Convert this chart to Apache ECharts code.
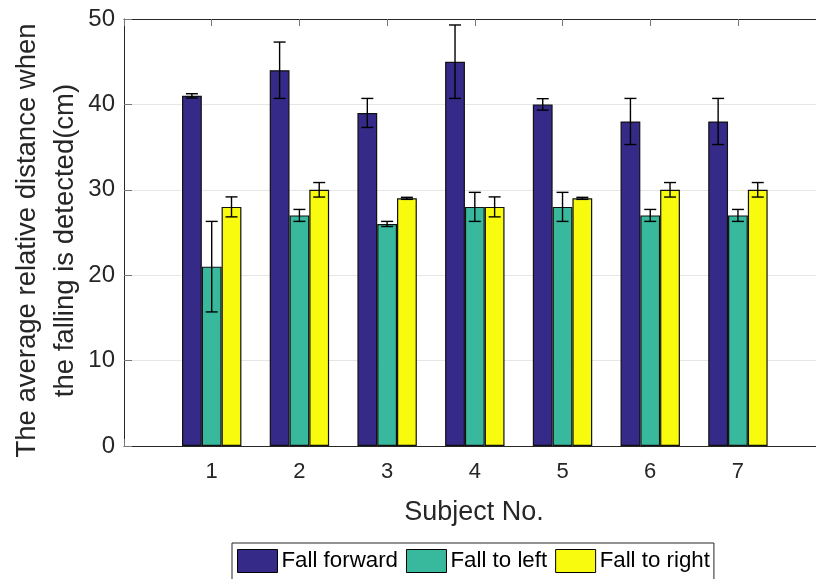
<!DOCTYPE html>
<html>
<head>
<meta charset="utf-8">
<script src="https://cdn.jsdelivr.net/npm/echarts@6/dist/echarts.min.js"></script>
<style>html,body{margin:0;padding:0;background:#fff;}#c{width:816px;height:579px;}</style>
</head>
<body>
<div id="c"></div>
<script>
const subjects = [1, 2, 3, 4, 5, 6, 7];
const seriesNames = ['Fall forward', 'Fall to left', 'Fall to right'];
const forward = [41, 44, 39, 45, 40, 38, 38];
const forwardErr = [0.25, 3.3, 1.7, 4.3, 0.67, 2.7, 2.7];
const left = [21, 27, 26, 28, 28, 27, 27];
const leftErr = [5.3, 0.7, 0.3, 1.7, 1.7, 0.7, 0.7];
const right = [28, 30, 29, 28, 29, 30, 30];
const rightErr = [1.17, 0.85, 0.12, 1.17, 0.12, 0.85, 0.85];
const yTicks = [0, 10, 20, 30, 40, 50];
const xMin = 0, xMax = 7.89;

const colors = ['#352a87', '#38b99e', '#f9fb0e'];
const textColor = '#262626';
const FONT = 'Liberation Sans, Arial, sans-serif';
const BAR_W = 19.8;

const values = [forward, left, right];
const errs = [forwardErr, leftErr, rightErr];

const chart = echarts.init(document.getElementById('c'), null, {renderer: 'canvas'});

const barSeries = values.map((vals, i) => ({
  name: seriesNames[i],
  type: 'bar',
  xAxisIndex: 0,
  yAxisIndex: 0,
  barWidth: BAR_W,
  barGap: '0%',
  data: subjects.map((s, j) => [s, vals[j]]),
  itemStyle: {color: colors[i], borderColor: '#111', borderWidth: 1.2},
  emphasis: {disabled: true},
  z: 2
}));

const errSeries = values.map((vals, i) => ({
  type: 'custom',
  xAxisIndex: 0,
  yAxisIndex: 0,
  silent: true,
  z: 5,
  data: subjects.map((s, j) => [s, vals[j] - errs[i][j], vals[j] + errs[i][j]]),
  renderItem: function (params, api) {
    const x = api.value(0);
    const lo = api.coord([x, api.value(1)]);
    const hi = api.coord([x, api.value(2)]);
    const cx = lo[0] + (i - 1) * BAR_W;
    const cap = 6;
    const st = {stroke: '#000', lineWidth: 1.4};
    return {
      type: 'group',
      children: [
        {type: 'line', shape: {x1: cx, y1: lo[1], x2: cx, y2: hi[1]}, style: st},
        {type: 'line', shape: {x1: cx - cap, y1: lo[1], x2: cx + cap, y2: lo[1]}, style: st},
        {type: 'line', shape: {x1: cx - cap, y1: hi[1], x2: cx + cap, y2: hi[1]}, style: st}
      ]
    };
  }
}));

const option = {
  backgroundColor: '#fff',
  animation: false,
  textStyle: {fontFamily: FONT},
  grid: {left: 124, top: 19, right: 0, bottom: 133, containLabel: false, outerBoundsMode: 'none'},
  legend: {
    data: seriesNames,
    left: 232,
    top: 543,
    orient: 'horizontal',
    icon: 'rect',
    itemWidth: 40,
    itemHeight: 23,
    itemGap: 8,
    padding: [6, 4, 8, 5],
    borderColor: '#262626',
    borderWidth: 1,
    textStyle: {fontSize: 22.3, color: '#000', fontFamily: FONT, padding: [0, 0, 0, -1]},
    itemStyle: {borderColor: '#000', borderWidth: 1}
  },
  xAxis: [{
    type: 'value',
    min: xMin, max: xMax, interval: 1,
    position: 'bottom',
    name: 'Subject No.',
    nameLocation: 'middle',
    nameGap: 53,
    nameMoveOverlap: false,
    nameTextStyle: {fontSize: 27, color: textColor, fontFamily: FONT, padding: [0, 0, 0, 8]},
    axisLine: {show: true, lineStyle: {color: textColor, width: 1}},
    axisTick: {show: true, inside: true, length: 7, lineStyle: {color: '#777'}},
    axisLabel: {
      fontSize: 22, color: textColor, margin: 15, fontFamily: FONT,
      showMaxLabel: false,
      formatter: v => (subjects.indexOf(v) >= 0 ? String(v) : '')
    },
    splitLine: {show: false}
  }, {
    type: 'value',
    min: xMin, max: xMax, interval: 1,
    position: 'top',
    axisLine: {show: true, onZero: false, lineStyle: {color: textColor, width: 1}},
    axisTick: {show: true, inside: true, length: 7, lineStyle: {color: '#777'}},
    axisLabel: {show: false},
    splitLine: {show: false}
  }],
  yAxis: [{
    type: 'value',
    min: yTicks[0], max: yTicks[yTicks.length - 1], interval: 10,
    name: 'The average relative distance when\nthe falling is detected(cm)',
    nameLocation: 'middle',
    nameGap: 40,
    nameMoveOverlap: false,
    nameTextStyle: {fontSize: 27.5, color: textColor, fontFamily: FONT, lineHeight: 38, padding: [0, 16, 0, 0]},
    axisLine: {show: true, lineStyle: {color: textColor, width: 1}},
    axisTick: {show: true, inside: true, length: 8, lineStyle: {color: '#777'}},
    axisLabel: {fontSize: 24, color: textColor, margin: 9, fontFamily: FONT},
    splitLine: {show: true, lineStyle: {color: '#e6e6e6', width: 1}}
  }],
  series: barSeries.concat(errSeries)
};
chart.setOption(option);
</script>
</body>
</html>
